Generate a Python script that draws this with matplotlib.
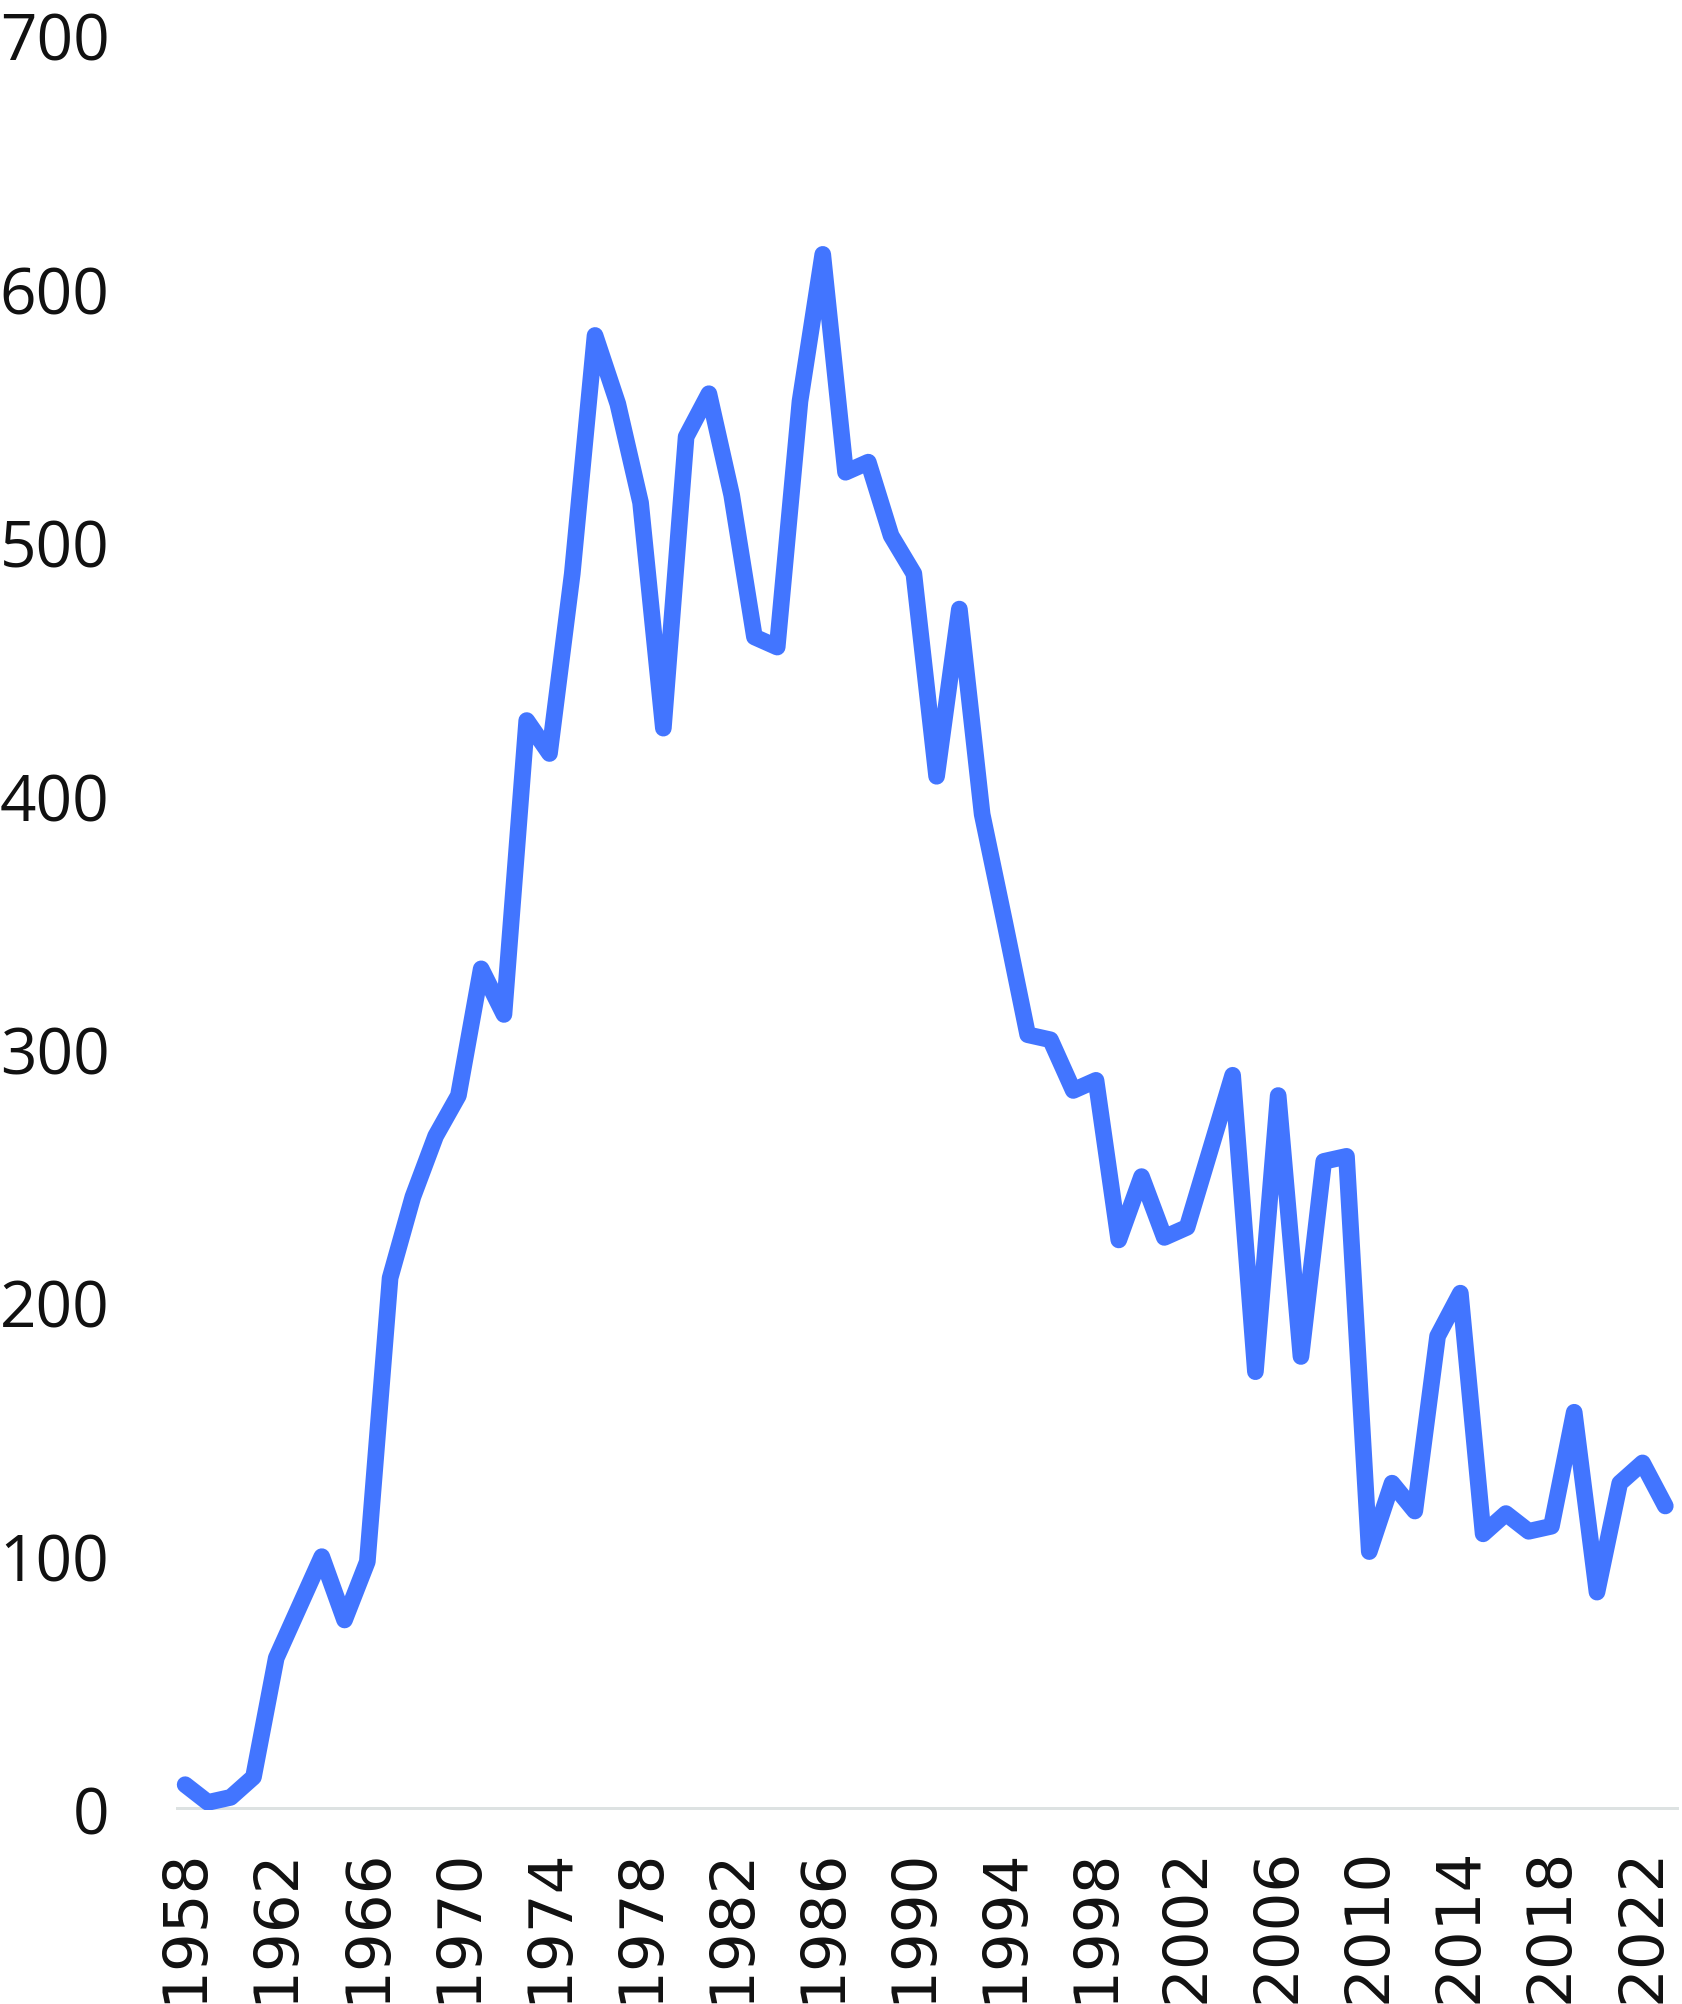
import matplotlib.pyplot as plt
import numpy as np

years = np.arange(1958, 2024)
values = [10, 3, 5, 13, 60, 80, 100, 75, 98, 210,
          242, 266, 282, 332, 314, 430, 417, 488, 582, 555,
          516, 427, 542, 559, 519, 463, 459, 556, 614, 528,
          532, 503, 488, 408, 474, 393, 350, 306, 304, 284,
          288, 225, 250, 226, 230, 260, 290, 173, 282, 179,
          256, 258, 102, 129, 118, 187, 204, 109, 117, 110,
          112, 157, 86, 129, 137, 120]
xticks = np.arange(1958, 2023, 4)
yticks = np.arange(0, 701, 100)

fig = plt.figure(figsize=(16.83, 20.04), dpi=100)
ax = fig.add_axes([0.1046, 0.0968, 0.893, 0.885])

ax.axhline(0, color="#dde2e2", lw=5, zorder=1)
ax.plot(years, values, color="#4275ff", lw=12,
        solid_capstyle="round", solid_joinstyle="round", zorder=2)

ax.set_xlim(1957.6, 2023.6)
ax.set_ylim(0, 700)
ax.set_xticks(xticks)
ax.set_xticklabels([str(y) for y in xticks], rotation=90,
                   fontsize=44, family="DejaVu Sans")
ax.set_yticks(yticks)
ax.set_yticklabels([str(v) for v in yticks], fontsize=46, family="Open Sans")
ax.tick_params(axis="x", length=0, pad=27, colors="#111111")
ax.tick_params(axis="y", length=0, pad=48, colors="#111111")
for s in ax.spines.values():
    s.set_visible(False)

fig.savefig("out.png", dpi=100)
